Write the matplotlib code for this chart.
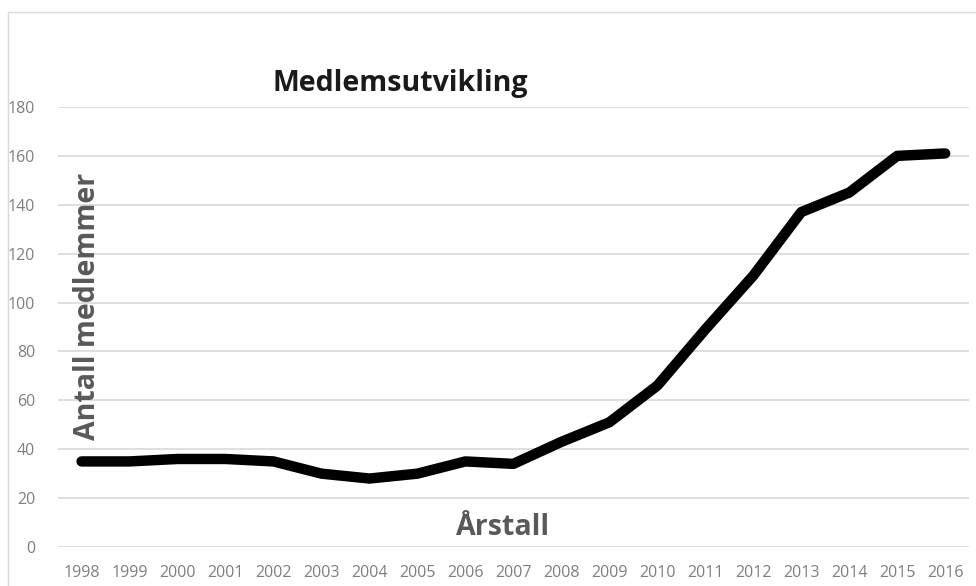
import matplotlib.pyplot as plt
from matplotlib.patches import Rectangle

years = ['1998', '1999', '2000', '2001', '2002', '2003', '2004', '2005', '2006', '2007',
         '2008', '2009', '2010', '2011', '2012', '2013', '2014', '2015', '2016']
members = [35, 35, 36, 36, 35, 30, 28, 30, 35, 34,
           43, 51, 66, 89, 111, 137, 145, 160, 161]
yticks = [0, 20, 40, 60, 80, 100, 120, 140, 160, 180]

plt.rcParams['font.family'] = ['Open Sans', 'DejaVu Sans']

fig = plt.figure(figsize=(9.76, 5.86), dpi=100)
ax = fig.add_axes([0.059, 0.0666, 0.934, 0.7508])

# chart border like the Excel frame
fig.patches.append(Rectangle((8 / 976, -0.1), 1.1, 1 - 12 / 586 + 0.1, transform=fig.transFigure,
                             fill=False, edgecolor='#d9d9d9', linewidth=1))

x = list(range(len(years)))
ax.plot(x, members, color='black', linewidth=7.5, solid_capstyle='round', solid_joinstyle='round')

ax.set_xlim(-0.5, len(years) - 0.5)
ax.set_ylim(0, 180)
ax.set_yticks(yticks)
ax.set_xticks(x)
ax.set_xticklabels(years)
ax.grid(axis='y', color='#d9d9d9', linewidth=1.2)
ax.set_axisbelow(True)
for s in ax.spines.values():
    s.set_visible(False)
ax.tick_params(length=0, labelsize=11.5, labelcolor='#7f7f7f')
ax.tick_params(axis='y', pad=16)
ax.tick_params(axis='x', pad=13)

fig.text(0.41, 0.858, 'Medlemsutvikling', ha='center', va='center',
         fontsize=20.5, fontweight='bold', color='#1a1a1a')
fig.text(0.09, 0.477, 'Antall medlemmer', ha='center', va='center', rotation=90,
         fontsize=20.5, fontweight='bold', color='#595959')
fig.text(0.515, 0.099, 'Årstall', ha='center', va='center',
         fontsize=20.5, fontweight='bold', color='#595959')

fig.savefig('out.png', dpi=100)
